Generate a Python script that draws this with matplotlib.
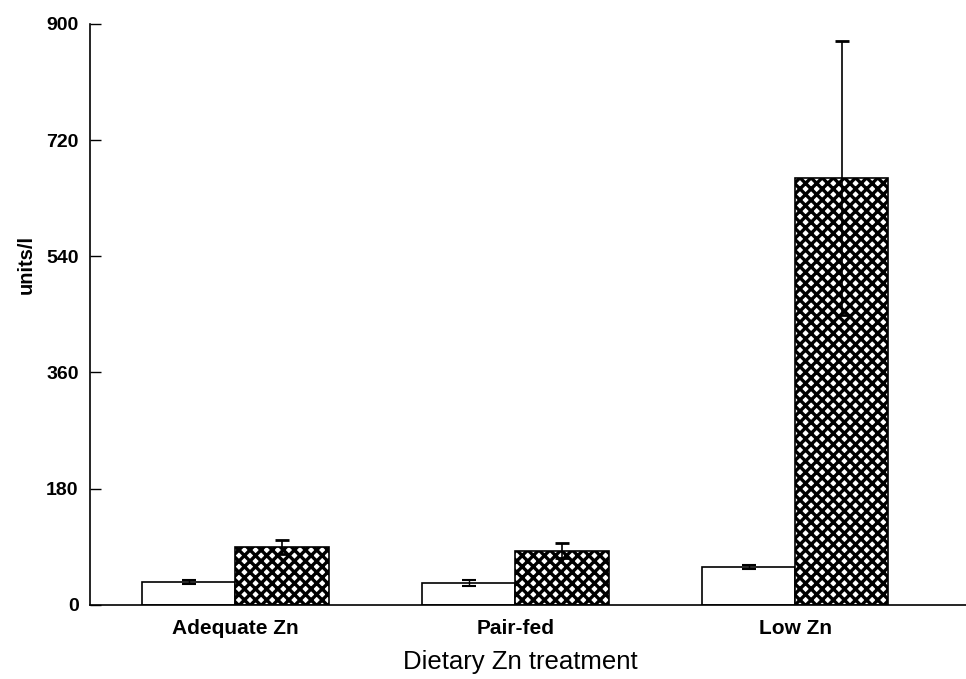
import matplotlib.pyplot as plt
import numpy as np

plt.rcParams['font.family'] = ['Liberation Sans', 'DejaVu Sans']
plt.rcParams['hatch.linewidth'] = 2.4

# data
groups = ['Adequate Zn', 'Pair-fed', 'Low Zn']
open_vals = [36, 34, 59]
open_err = [3, 5, 3]
hatched_vals = [90, 84, 661]
hatched_err = [11, 12, 212]
yticks = [0, 180, 360, 540, 720, 900]

x = np.arange(len(groups))
w = 0.333

fig = plt.figure(figsize=(9.66, 6.79), dpi=100)
ax = fig.add_axes([0.093, 0.109, 0.907, 0.856])

ax.bar(x - w / 2, open_vals, w, color='white', edgecolor='black', linewidth=1.2,
       yerr=open_err, capsize=5, error_kw=dict(ecolor='black', elinewidth=1, capthick=1.5))
ax.bar(x + w / 2, hatched_vals, w, color='white', edgecolor='black', linewidth=1.2,
       hatch='xxx', yerr=hatched_err, capsize=5,
       error_kw=dict(ecolor='black', elinewidth=1.2, capthick=2))

ax.set_xlim(-0.52, 2.61)
ax.set_ylim(0, 900)
ax.set_yticks(yticks)
ax.set_yticklabels([str(t) for t in yticks], fontsize=14, fontweight='bold')
ax.set_xticks(x)
ax.set_xticklabels(groups, fontsize=15, fontweight='bold')
ax.tick_params(axis='y', direction='in', length=8, width=1, pad=8)
ax.tick_params(axis='x', length=0, pad=10)

for s in ['top', 'right']:
    ax.spines[s].set_visible(False)
ax.spines['left'].set_linewidth(1.2)
ax.spines['bottom'].set_linewidth(1.2)

ax.set_xlabel('Dietary Zn treatment', fontsize=18.5)
ax.xaxis.set_label_coords(0.491, -0.078)
ax.set_ylabel('units/l', fontsize=14.5, fontweight='bold')
ax.yaxis.set_label_coords(-0.062, 0.585)

fig.savefig('out.png', dpi=100)
